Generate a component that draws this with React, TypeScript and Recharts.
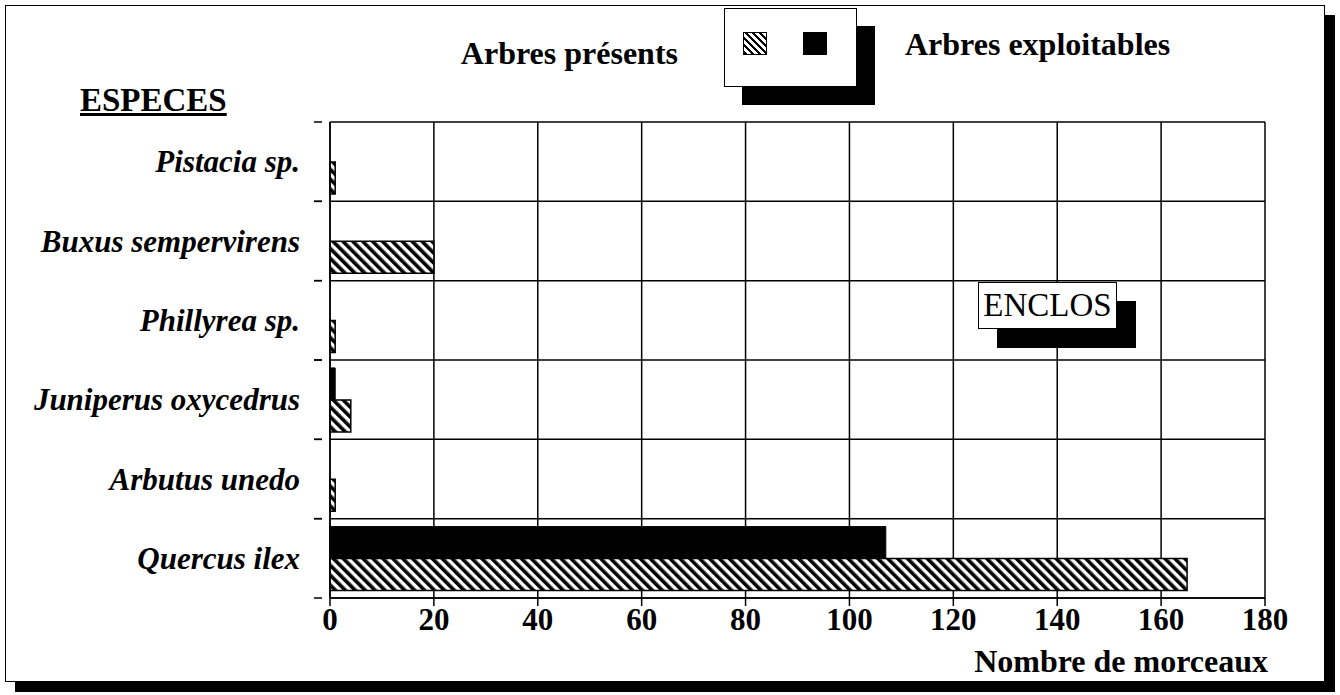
import React from 'react'
import { BarChart, Bar, XAxis, YAxis, CartesianGrid } from 'recharts'

const species = ['Pistacia sp.', 'Buxus sempervirens', 'Phillyrea sp.', 'Juniperus oxycedrus', 'Arbutus unedo', 'Quercus ilex']
const exploitables = [0, 0, 0, 1, 0, 107]
const presents = [1, 20, 1, 4, 1, 165]
const xTicks = [0, 20, 40, 60, 80, 100, 120, 140, 160, 180]

const data = species.map((name, i) => ({ name, exploitables: exploitables[i], presents: presents[i] }))

const SERIF = '"Liberation Serif", "Times New Roman", serif'

const SpeciesTick = (props: any) => {
  const { x, y, payload } = props
  const half = payload.offset ?? 0
  return (
    <g>
      <text x={x - 22} y={y} textAnchor="end" dominantBaseline="central"
        fontFamily={SERIF} fontWeight="bold" fontStyle="italic" fontSize={31} fill="#000">
        {payload.value}
      </text>
      <line x1={x - 8} x2={x} y1={y - half} y2={y - half} stroke="#000" strokeWidth={1.5} />
      <line x1={x - 8} x2={x} y1={y + half} y2={y + half} stroke="#000" strokeWidth={1.5} />
    </g>
  )
}

const boxStyle: React.CSSProperties = {
  position: 'absolute',
  background: '#fff',
  border: '1.5px solid #000',
  boxSizing: 'border-box',
}

export default function App() {
  return (
    <div style={{ position: 'absolute', left: 0, top: 0, width: 1340, height: 695, background: '#fff', fontFamily: SERIF }}>
      <div style={{ ...boxStyle, left: 5, top: 5, width: 1320, height: 677, boxShadow: '10px 10px 0 #000' }} />

      <div style={{ position: 'absolute', left: 0, top: 0 }}>
        <BarChart
          width={1340}
          height={695}
          data={data}
          layout="vertical"
          margin={{ top: 122, right: 75, bottom: 37, left: 0 }}
          barCategoryGap="10%"
          barGap={0}
        >
          <defs>
            <pattern id="hatch" patternUnits="userSpaceOnUse" width={7} height={7} patternTransform="rotate(-45)">
              <rect x={0} y={0} width={7} height={7} fill="#fff" />
              <rect x={0} y={0} width={3.6} height={7} fill="#000" />
            </pattern>
          </defs>
          <CartesianGrid
            stroke="#000"
            strokeWidth={1.5}
            horizontalCoordinatesGenerator={({ offset }: any) =>
              species.concat(['']).map((_, i) => offset.top + (i * offset.height) / species.length)
            }
          />
          <XAxis
            type="number"
            domain={[0, 180]}
            ticks={xTicks}
            height={60}
            tickSize={8}
            stroke="#000"
            strokeWidth={1.5}
            tick={{ fontFamily: SERIF, fontWeight: 'bold', fontSize: 31, fill: '#000' }}
          />
          <YAxis
            type="category"
            dataKey="name"
            width={330}
            tickLine={false}
            stroke="#000"
            strokeWidth={1.5}
            tick={<SpeciesTick />}
          />
          <Bar dataKey="exploitables" fill="#000" stroke="#000" strokeWidth={1} isAnimationActive={false} />
          <Bar dataKey="presents" fill="url(#hatch)" stroke="#000" strokeWidth={1.5} isAnimationActive={false} />
        </BarChart>
      </div>

      <div style={{ position: 'absolute', left: 80, top: 82, fontSize: 33, fontWeight: 'bold', textDecoration: 'underline' }}>
        ESPECES
      </div>

      <div style={{ position: 'absolute', right: 1340 - 678, top: 35, fontSize: 32, fontWeight: 'bold', whiteSpace: 'nowrap' }}>
        Arbres présents
      </div>
      <div style={{ ...boxStyle, left: 724, top: 8, width: 133, height: 79, boxShadow: '18px 18px 0 #000' }}>
        <div style={{ position: 'absolute', left: 18, top: 23, width: 24, height: 23, border: '1.5px solid #000', boxSizing: 'border-box',
          background: 'repeating-linear-gradient(45deg, #000 0 2.5px, #fff 2.5px 5px)' }} />
        <div style={{ position: 'absolute', left: 78, top: 23, width: 24, height: 23, background: '#000' }} />
      </div>
      <div style={{ position: 'absolute', left: 905, top: 26, fontSize: 32, fontWeight: 'bold', whiteSpace: 'nowrap' }}>
        Arbres exploitables
      </div>

      <div style={{ ...boxStyle, left: 978, top: 282, width: 139, height: 47, boxShadow: '19px 19px 0 #000',
        fontSize: 33, display: 'flex', alignItems: 'center', justifyContent: 'center' }}>
        ENCLOS
      </div>

      <div style={{ position: 'absolute', right: 1340 - 1268, top: 643, fontSize: 32, fontWeight: 'bold', whiteSpace: 'nowrap' }}>
        Nombre de morceaux
      </div>
    </div>
  )
}
